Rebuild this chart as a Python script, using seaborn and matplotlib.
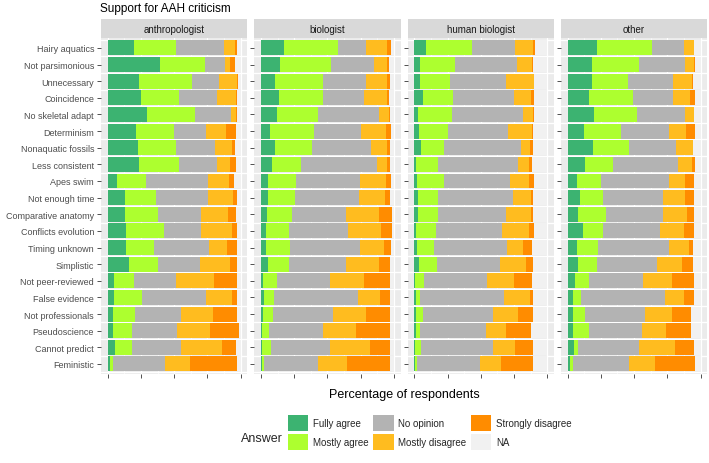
import numpy as np
import pandas as pd
import matplotlib
matplotlib.use("Agg")
import matplotlib.pyplot as plt
from matplotlib.patches import Patch, Rectangle
import seaborn as sns

# statements, top to bottom
items = ["Hairy aquatics", "Not parsimonious", "Unnecessary", "Coincidence",
         "No skeletal adapt", "Determinism", "Nonaquatic fossils", "Less consistent",
         "Apes swim", "Not enough time", "Comparative anatomy", "Conflicts evolution",
         "Timing unknown", "Simplistic", "Not peer-reviewed", "False evidence",
         "Not professionals", "Pseudoscience", "Cannot predict", "Feministic"]

answers = ["Fully agree", "Mostly agree", "No opinion", "Mostly disagree",
           "Strongly disagree", "NA"]
colors = ["#3CB371", "#ADFF2F", "#B3B3B3", "#FFBC1F", "#FF8C00", "#F1F1F1"]

professions = ["anthropologist", "biologist", "human biologist", "other"]

# percent of respondents: fully agree, mostly agree, no opinion, mostly disagree, strongly disagree
anthropologist = [
    [19.9, 31.8, 35.7, 8.7, 1.5],
    [39.2, 34.0, 15.1, 4.0, 3.7],
    [23.8, 39.5, 20.6, 13.6, 0.3],
    [24.8, 29.0, 28.5, 14.4, 0.7],
    [29.8, 35.7, 27.0, 4.2, 0.3],
    [21.3, 28.3, 24.1, 15.6, 7.2],
    [23.1, 28.5, 29.0, 12.7, 2.5],
    [23.8, 30.0, 28.5, 9.9, 4.2],
    [6.7, 22.3, 46.4, 15.6, 4.0],
    [12.9, 23.6, 39.0, 18.6, 3.5],
    [12.9, 24.8, 32.8, 20.3, 5.7],
    [13.9, 28.8, 27.8, 22.8, 4.2],
    [13.9, 21.3, 41.2, 13.6, 7.4],
    [16.4, 21.3, 31.8, 22.3, 5.7],
    [4.5, 15.4, 31.8, 28.3, 17.6],
    [4.5, 21.3, 48.1, 19.4, 4.2],
    [3.7, 17.1, 34.5, 23.6, 18.6],
    [3.7, 14.6, 34.2, 24.8, 21.1],
    [5.5, 12.9, 36.7, 30.8, 10.9],
    [1.5, 2.2, 39.5, 18.9, 35.5],
]

biologist = [
    [17.3, 40.5, 20.8, 16.3, 3.0],
    [14.5, 38.0, 32.3, 10.0, 1.8],
    [10.8, 35.5, 32.3, 16.3, 2.0],
    [13.3, 33.0, 31.0, 17.5, 1.8],
    [12.0, 30.5, 46.0, 7.5, 1.0],
    [7.0, 32.5, 35.8, 18.8, 3.3],
    [10.8, 27.5, 44.8, 11.3, 2.5],
    [8.0, 21.8, 57.3, 7.3, 2.5],
    [5.3, 21.3, 48.0, 19.5, 3.3],
    [5.5, 20.0, 48.3, 19.3, 3.8],
    [4.5, 19.0, 40.5, 25.0, 9.3],
    [3.8, 17.0, 45.0, 24.5, 8.0],
    [4.0, 17.8, 52.5, 18.5, 4.8],
    [5.0, 16.0, 42.8, 24.8, 8.3],
    [1.8, 10.3, 39.5, 25.8, 19.8],
    [2.0, 7.8, 63.5, 16.0, 7.8],
    [1.3, 8.0, 45.0, 25.0, 17.8],
    [0.8, 5.3, 40.3, 25.0, 25.8],
    [0.8, 6.5, 44.8, 29.5, 15.3],
    [0.5, 1.5, 41.0, 21.5, 32.5],
]

human_biologist = [
    [8.5, 34.9, 32.7, 13.0, 1.7],
    [4.2, 26.2, 46.9, 11.2, 0.5],
    [4.2, 22.4, 42.1, 21.0, 0.5],
    [6.7, 22.4, 45.6, 13.0, 2.5],
    [2.5, 25.7, 53.4, 7.7, 0.5],
    [3.5, 22.2, 44.9, 18.2, 0.7],
    [5.0, 17.5, 58.1, 6.7, 2.0],
    [1.5, 16.7, 59.9, 8.5, 2.2],
    [2.0, 20.4, 49.4, 14.7, 3.7],
    [2.5, 15.7, 55.9, 13.7, 1.5],
    [2.5, 15.7, 50.6, 19.0, 1.5],
    [1.0, 15.7, 48.9, 21.0, 3.7],
    [1.7, 13.2, 54.9, 11.7, 7.2],
    [3.2, 14.2, 47.4, 19.2, 5.5],
    [0.5, 7.0, 46.9, 20.7, 13.7],
    [1.0, 3.2, 63.1, 19.7, 2.2],
    [1.0, 5.7, 52.6, 19.0, 11.2],
    [1.0, 3.2, 49.4, 15.5, 19.0],
    [0.7, 4.2, 54.4, 16.5, 13.2],
    [0.5, 1.5, 47.1, 16.0, 24.0],
]

other = [
    [22.1, 41.0, 24.1, 7.5, 0.5],
    [18.4, 35.6, 34.1, 6.7, 1.2],
    [18.4, 27.1, 33.8, 14.2, 0.7],
    [16.4, 32.8, 30.1, 12.9, 3.7],
    [19.9, 32.1, 36.1, 6.7, 0.5],
    [12.2, 27.9, 35.8, 13.4, 6.2],
    [19.2, 27.1, 35.1, 12.7, 0.2],
    [13.4, 20.9, 48.8, 10.2, 2.7],
    [7.2, 17.7, 51.0, 12.2, 6.7],
    [9.2, 17.2, 45.3, 16.9, 6.5],
    [8.0, 20.6, 43.0, 17.9, 5.5],
    [11.4, 15.4, 42.8, 17.7, 7.7],
    [7.0, 15.9, 53.7, 14.4, 3.2],
    [8.0, 14.2, 45.3, 18.7, 8.2],
    [5.2, 11.2, 40.3, 21.6, 16.9],
    [3.7, 6.5, 62.9, 14.2, 7.7],
    [3.7, 9.2, 45.3, 20.6, 14.2],
    [3.7, 12.7, 39.6, 17.9, 19.2],
    [4.5, 3.0, 46.0, 27.6, 14.0],
    [1.7, 2.0, 42.5, 19.9, 29.9],
]

tables = [anthropologist, biologist, human_biologist, other]

sns.set_style("white")
plt.rcParams["font.family"] = ["Liberation Sans", "DejaVu Sans"]

fig, axes = plt.subplots(1, 4, figsize=(7.09, 4.64), dpi=100, sharey=True)
fig.subplots_adjust(left=0.1425, right=0.9975, top=0.916, bottom=0.192, wspace=0.048)

n = len(items)
for ax, prof, tab in zip(axes, professions, tables):
    df = pd.DataFrame(tab, columns=answers[:5], index=items)
    df["NA"] = 100 - df.sum(axis=1)
    cum = df.cumsum(axis=1)
    # draw cumulative totals from longest to shortest so segments stack
    for ans, col in reversed(list(zip(answers, colors))):
        sns.barplot(x=cum[ans].values, y=items, orient="h", color=col,
                    saturation=1, width=0.9, linewidth=0, ax=ax, zorder=3)
    ax.set_facecolor("#EBEBEB")
    ax.set_xlim(-5, 105)
    ax.set_ylim(n - 0.4, -0.6)
    ax.set_xticks([0, 25, 50, 75, 100])
    ax.set_xticks([12.5, 37.5, 62.5, 87.5], minor=True)
    ax.set_xticklabels([])
    ax.set_yticks(np.arange(-0.5, n), minor=True)
    ax.grid(True, which="major", axis="x", color="white", lw=0.9, zorder=0)
    ax.grid(True, which="minor", axis="x", color="white", lw=0.45, zorder=0)
    ax.grid(True, which="minor", axis="y", color="white", lw=1.0, zorder=0)
    ax.set_axisbelow(True)
    for s in ax.spines.values():
        s.set_visible(False)
    ax.tick_params(axis="x", which="major", length=3, width=0.6, color="#333333", bottom=True)
    ax.tick_params(axis="x", which="minor", length=0)
    ax.tick_params(axis="y", which="major", length=3, width=0.6, color="#333333",
                   labelsize=6.5, labelcolor="#4D4D4D", pad=2, left=True)
    ax.tick_params(axis="y", which="minor", length=0)
    ax.set_xlabel("")
    ax.set_ylabel("")
    # facet strip
    ax.add_patch(Rectangle((0, 1.0), 1, 0.056, transform=ax.transAxes,
                           facecolor="#D9D9D9", edgecolor="none", clip_on=False))
    ax.text(0.5, 1.028, prof, transform=ax.transAxes, ha="center", va="center",
            fontsize=7, color="#1A1A1A")

fig.text(100 / 709, 1 - 9 / 464, "Support for AAH criticism", fontsize=8.5,
         ha="left", va="center", color="black")
fig.text(404 / 709, 1 - 395 / 464, "Percentage of respondents", fontsize=9,
         ha="center", va="center", color="black")
fig.text(241 / 709, 1 - 439 / 464, "Answer", fontsize=9, ha="left", va="center")

handles = [Patch(facecolor=c, edgecolor="none") for c in colors]
fig.legend(handles, answers, ncol=3, loc="upper left",
           bbox_to_anchor=(288 / 709, 1 - 416 / 464), frameon=False,
           fontsize=7, handlelength=2.1, handleheight=2.1, handletextpad=0.45,
           labelspacing=0.35, columnspacing=0.5, borderpad=0, borderaxespad=0)

fig.savefig("out.png", dpi=100, facecolor="white")
